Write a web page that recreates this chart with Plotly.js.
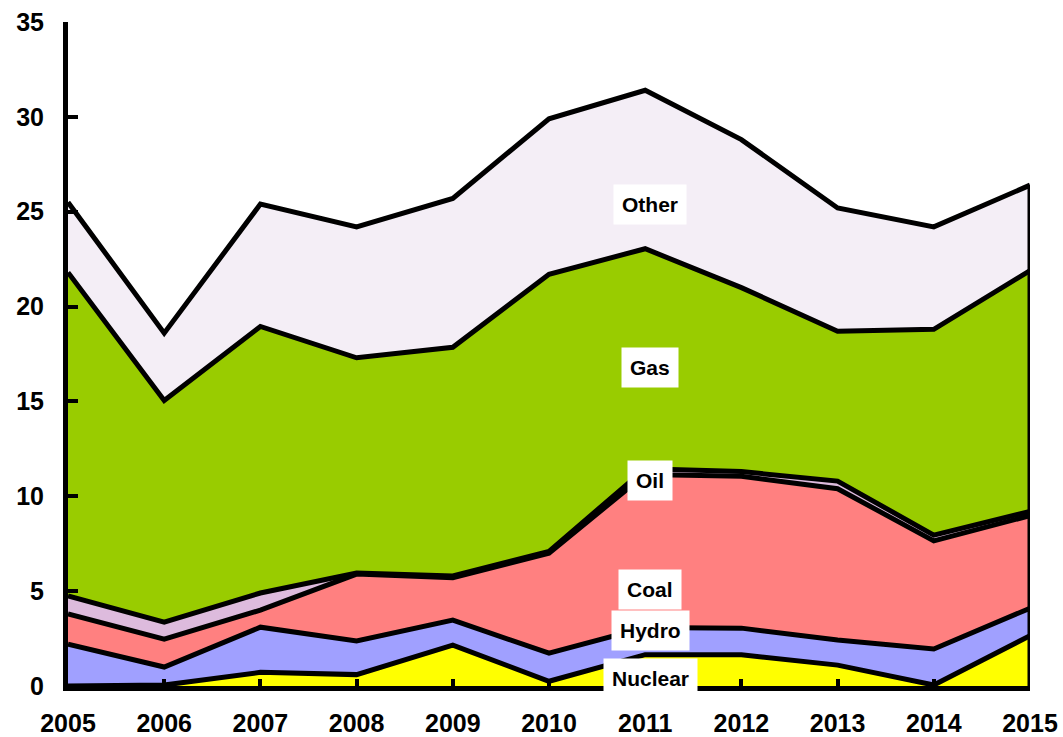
<!DOCTYPE html>
<html>
<head>
<meta charset="utf-8">
<script src="https://cdn.plot.ly/plotly-3.0.1.min.js"></script>
<style>
  html, body { margin: 0; padding: 0; background: #fff; }
  #chart { width: 1063px; height: 737px; }
</style>
</head>
<body>
<div id="chart"></div>
<script>
const years   = [2005, 2006, 2007, 2008, 2009, 2010, 2011, 2012, 2013, 2014, 2015];
const nuclear = [0, 0.05, 0.72, 0.6, 2.15, 0.25, 1.65, 1.65, 1.1, 0.05, 2.65];
const hydro   = [2.2, 0.95, 2.38, 1.77, 1.32, 1.48, 1.43, 1.4, 1.32, 1.9, 1.45];
const coal    = [1.6, 1.47, 0.9, 3.53, 2.23, 5.27, 8.07, 8.0, 7.98, 5.7, 4.88];
const oil     = [0.95, 0.9, 0.9, 0.05, 0.1, 0.1, 0.3, 0.25, 0.4, 0.3, 0.22];
const gas     = [17.05, 11.68, 14.05, 11.35, 12.05, 14.6, 11.6, 9.7, 7.9, 10.85, 12.7];
const other   = [3.7, 3.55, 6.45, 6.9, 7.85, 8.2, 8.35, 7.8, 6.5, 5.4, 4.5];
const seriesNames = ["Nuclear", "Hydro", "Coal", "Oil", "Gas", "Other"];
const yTicks = [0, 5, 10, 15, 20, 25, 30, 35];

const series = [nuclear, hydro, coal, oil, gas, other];
const fills = ["#FFFF00", "#A0A0FF", "#FF8080", "#DDBBDD", "#99CC00", "#F4EEF6"];

const traces = series.map((vals, i) => ({
  x: years, y: vals, name: seriesNames[i],
  type: "scatter", mode: "lines", stackgroup: "one",
  fillcolor: fills[i],
  line: { color: "#000", width: 5 },
  hoverinfo: "x+y+name"
}));

// right-edge outline of the stacked area (from the last year's total)
const lastIdx = years.length - 1;
const total = series.reduce((s, v) => s + v[lastIdx], 0);
traces.push({
  x: [years[lastIdx], years[lastIdx]], y: [0, total],
  type: "scatter", mode: "lines", line: { color: "#000", width: 5 },
  showlegend: false, hoverinfo: "skip", cliponaxis: false
});

const labelPos = { Other: 25.4, Gas: 16.8, Oil: 10.85, Coal: 5.1, Hydro: 2.9, Nuclear: 0.42 };
const annotations = seriesNames.map(n => ({
  x: 2011.05, y: labelPos[n], xref: "x", yref: "y", text: n, showarrow: false,
  font: { family: "Liberation Sans, Arial, sans-serif", size: 21, color: "#000", weight: "bold" },
  bgcolor: "#fff", borderpad: 8
}));

const layout = {
  width: 1063, height: 737,
  margin: { l: 68, r: 33, t: 22, b: 51 },
  paper_bgcolor: "#fff", plot_bgcolor: "#fff",
  showlegend: false,
  font: { family: "Liberation Sans, Arial, sans-serif", color: "#000" },
  xaxis: {
    range: [2005, 2015], tickvals: years, ticktext: years.map(String),
    showgrid: false, zeroline: false,
    showline: true, linecolor: "#000", linewidth: 5,
    ticks: "inside", ticklen: 7, tickwidth: 4, tickcolor: "#000",
    ticklabelstandoff: 11,
    tickfont: { family: "Liberation Sans, Arial, sans-serif", size: 25, color: "#000", weight: "bold" }
  },
  yaxis: {
    range: [0, 35], tickvals: yTicks,
    showgrid: false, zeroline: false,
    showline: true, linecolor: "#000", linewidth: 5,
    ticks: "inside", ticklen: 10, tickwidth: 4, tickcolor: "#000",
    ticklabelstandoff: 14,
    tickfont: { family: "Liberation Sans, Arial, sans-serif", size: 25, color: "#000", weight: "bold" }
  },
  annotations: annotations
};

Plotly.newPlot("chart", traces, layout, { displayModeBar: false, staticPlot: true });
</script>
</body>
</html>
